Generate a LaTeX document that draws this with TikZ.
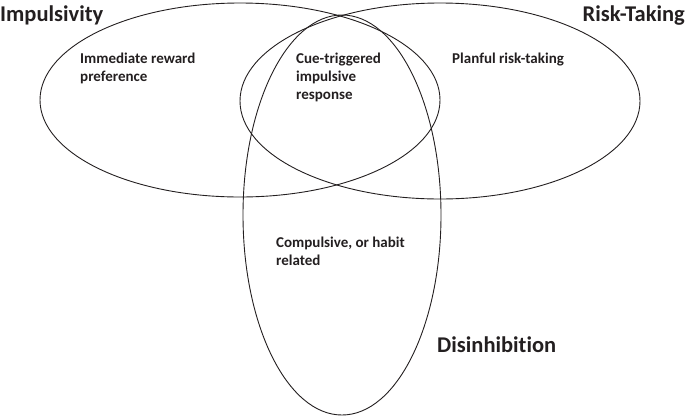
\documentclass[tikz,border=0pt]{standalone}
\usepackage{fontspec}
\setmainfont{Carlito}[Ligatures={NoCommon}]
\usepackage{xcolor}
\definecolor{ink}{HTML}{231F20}
\usepackage{tikz}

\begin{document}
\begin{tikzpicture}[
  x=1pt,y=-1pt,
  ring/.style={draw=ink,line width=0.9pt},
  title/.style={font=\fontsize{22.5}{27}\selectfont\bfseries,text=ink,inner sep=0pt},
  area/.style={font=\fontsize{15}{18}\selectfont\bfseries,text=ink,inner sep=0pt,align=left}
]
  \useasboundingbox (0,0) rectangle (685,416);
  % the three sets
  \draw[ring] (240,100) ellipse [x radius=200pt,y radius=97pt];
  \draw[ring] (440,101) ellipse [x radius=200pt,y radius=98pt];
  \draw[ring] (342,215) ellipse [x radius=99pt,y radius=200pt];
  % set names (base of the text)
  \node[title,anchor=base west] (imp) at (0,21) {Impulsivity};
  \node[title,anchor=base east] (risk) at (685,21) {Risk-Taking};
  \node[title,anchor=base west] (dis) at (437,352) {Disinhibition};
  % regions, placed by the base of their last line
  \node[area,anchor=base west] (reward) at (80,81) {Immediate reward\\preference};
  \node[area,anchor=base west] (cue) at (296,99) {Cue-triggered\\impulsive\\response};
  \node[area,anchor=base west] (plan) at (452,63) {Planful risk-taking};
  \node[area,anchor=base west] (habit) at (276,265) {Compulsive, or habit\\related};
\end{tikzpicture}
\end{document}
